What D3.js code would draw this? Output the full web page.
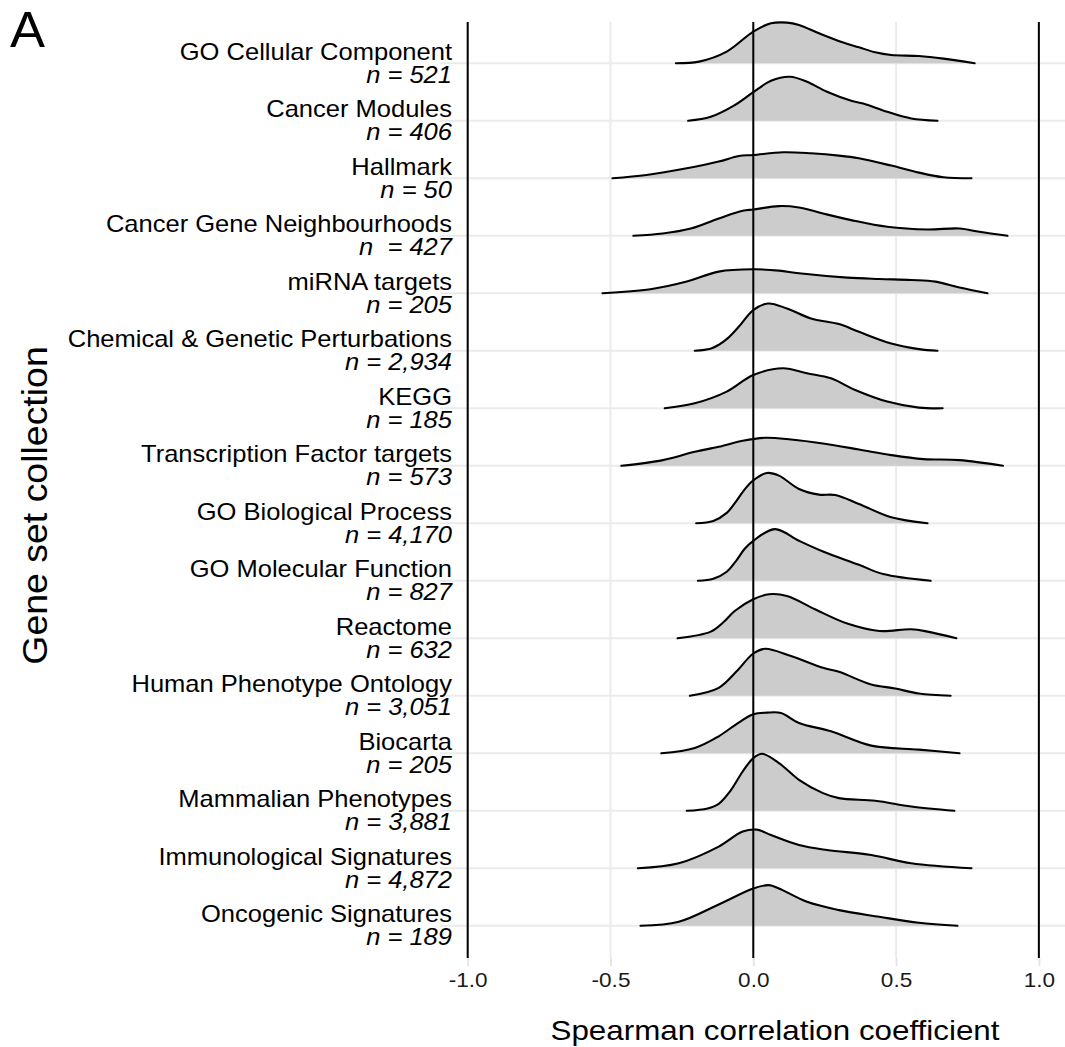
<!DOCTYPE html>
<html>
<head>
<meta charset="utf-8">
<script src="https://cdn.jsdelivr.net/npm/d3@7"></script>
<style>
  html, body { margin: 0; padding: 0; background: #fff; }
  svg { display: block; font-family: "Liberation Sans", Arial, Helvetica, sans-serif; }
</style>
</head>
<body>
<svg id="chart" width="1065" height="1047"></svg>
<script>
// ---------------- data ----------------
const categories = [
  "GO Cellular Component", "Cancer Modules", "Hallmark", "Cancer Gene Neighbourhoods",
  "miRNA targets", "Chemical & Genetic Perturbations", "KEGG", "Transcription Factor targets",
  "GO Biological Process", "GO Molecular Function", "Reactome", "Human Phenotype Ontology",
  "Biocarta", "Mammalian Phenotypes", "Immunological Signatures", "Oncogenic Signatures"
];
const nLabels = [
  "n = 521", "n = 406", "n = 50", "n  = 427", "n = 205", "n = 2,934", "n = 185", "n = 573",
  "n = 4,170", "n = 827", "n = 632", "n = 3,051", "n = 205", "n = 3,881", "n = 4,872", "n = 189"
];
const xTicks = [-1.0, -0.5, 0.0, 0.5, 1.0];
const refLines = [-1, 0, 1];
const xTitle = "Spearman correlation coefficient";
const yTitle = "Gene set collection";
const panelLabel = "A";

// density curves: [correlation, density]
const goCellularComponent = [[-0.271,0],[-0.19,0.085],[-0.093,0.585],[0,1.585],[0.062,2.0],[0.118,2.035],[0.16,1.915],[0.23,1.5],[0.315,1.035],[0.37,0.8],[0.427,0.55],[0.483,0.415],[0.58,0.365],[0.666,0.235],[0.775,0]];
const cancerModules = [[-0.228,0],[-0.149,0.2],[-0.065,0.785],[0,1.435],[0.062,2.0],[0.129,2.2],[0.188,1.95],[0.258,1.45],[0.343,1.0],[0.385,0.865],[0.469,0.45],[0.553,0.115],[0.645,0]];
const hallmark = [[-0.493,0],[-0.374,0.165],[-0.233,0.5],[-0.121,0.835],[-0.051,1.115],[0,1.165],[0.104,1.3],[0.202,1.25],[0.3,1.135],[0.37,1.0],[0.483,0.635],[0.58,0.285],[0.666,0.05],[0.764,0]];
const cancerGeneNeighbourhoods = [[-0.42,0],[-0.317,0.115],[-0.219,0.365],[-0.121,0.865],[-0.037,1.25],[0,1.315],[0.09,1.485],[0.16,1.415],[0.244,1.115],[0.343,0.785],[0.469,0.45],[0.61,0.315],[0.722,0.365],[0.792,0.2],[0.89,0]];
const mirnaTargets = [[-0.528,0],[-0.36,0.2],[-0.233,0.585],[-0.121,1.085],[0,1.2],[0.09,1.135],[0.16,1.0],[0.329,0.785],[0.441,0.715],[0.553,0.665],[0.638,0.585],[0.722,0.285],[0.82,0]];
const chemicalGenetic = [[-0.205,0],[-0.15,0.1],[-0.121,0.3],[-0.09,0.62],[-0.051,1.2],[0,2.035],[0.051,2.365],[0.118,2.115],[0.202,1.615],[0.3,1.335],[0.37,0.95],[0.483,0.365],[0.58,0.085],[0.645,0]];
const kegg = [[-0.31,0],[-0.205,0.25],[-0.093,0.835],[0,1.665],[0.104,2.0],[0.188,1.75],[0.272,1.5],[0.357,0.915],[0.469,0.335],[0.58,0.035],[0.663,0]];
const tfTargets = [[-0.462,0],[-0.317,0.285],[-0.205,0.7],[-0.121,0.95],[-0.037,1.25],[0.041,1.4],[0.132,1.315],[0.244,1.115],[0.37,0.815],[0.483,0.535],[0.596,0.335],[0.722,0.285],[0.874,0]];
const goBiologicalProcess = [[-0.2,0],[-0.14,0.12],[-0.093,0.52],[-0.06,1.1],[-0.03,1.7],[0,2.15],[0.048,2.515],[0.09,2.385],[0.16,1.715],[0.23,1.435],[0.287,1.415],[0.37,0.965],[0.483,0.3],[0.61,0]];
const goMolecularFunction = [[-0.194,0],[-0.14,0.1],[-0.093,0.45],[-0.06,1.0],[-0.03,1.6],[0,2.0],[0.076,2.585],[0.16,2.0],[0.244,1.465],[0.37,0.8],[0.455,0.335],[0.621,0]];
const reactome = [[-0.265,0],[-0.149,0.335],[-0.105,0.8],[-0.065,1.365],[0,1.95],[0.055,2.2],[0.118,2.115],[0.216,1.45],[0.329,0.735],[0.441,0.365],[0.553,0.45],[0.61,0.335],[0.711,0]];
const humanPhenotype = [[-0.222,0],[-0.121,0.4],[-0.06,1.2],[0,2.115],[0.041,2.35],[0.132,1.985],[0.244,1.4],[0.3,1.2],[0.413,0.565],[0.497,0.365],[0.58,0.115],[0.691,0]];
const biocarta = [[-0.322,0],[-0.205,0.265],[-0.121,0.85],[-0.06,1.45],[0,1.95],[0.048,2.035],[0.097,2.015],[0.16,1.515],[0.272,1.1],[0.413,0.385],[0.58,0.185],[0.722,0]];
const mammalianPhenotypes = [[-0.233,0],[-0.16,0.12],[-0.121,0.35],[-0.08,1.0],[-0.037,1.965],[0,2.635],[0.031,2.85],[0.09,2.385],[0.16,1.55],[0.244,0.885],[0.3,0.635],[0.427,0.5],[0.553,0.215],[0.704,0]];
const immunologicalSignatures = [[-0.404,0],[-0.261,0.25],[-0.121,1.085],[-0.037,1.835],[0.013,1.935],[0.062,1.665],[0.16,1.165],[0.258,0.915],[0.413,0.665],[0.553,0.25],[0.764,0]];
const oncogenicSignatures = [[-0.395,0],[-0.261,0.2],[-0.121,1.065],[0,1.865],[0.055,2.035],[0.09,1.865],[0.188,1.2],[0.3,0.785],[0.441,0.45],[0.58,0.15],[0.715,0]];

const densities = [
  goCellularComponent, cancerModules, hallmark, cancerGeneNeighbourhoods,
  mirnaTargets, chemicalGenetic, kegg, tfTargets,
  goBiologicalProcess, goMolecularFunction, reactome, humanPhenotype,
  biocarta, mammalianPhenotypes, immunologicalSignatures, oncogenicSignatures
];

// ---------------- layout ----------------
const svg = d3.select("#chart");
const panel = { left: 440, right: 1066, top: 22, bottom: 958 };

const x = d3.scaleLinear().domain([-1.097, 1.095]).range([panel.left, panel.right]);
const y = d3.scalePoint().domain(categories).range([63.3, 925.8]);
const h = d3.scaleLinear().domain([0, 1]).range([0, 20]); // density -> px height

const GRID = "#ebebeb";

// horizontal grid lines at baselines
svg.append("g").selectAll("line").data(categories).join("line")
  .attr("x1", panel.left).attr("x2", panel.right)
  .attr("y1", d => y(d)).attr("y2", d => y(d))
  .attr("stroke", GRID).attr("stroke-width", 2);

// vertical grid lines
svg.append("g").selectAll("line").data(xTicks).join("line")
  .attr("x1", d => x(d)).attr("x2", d => x(d))
  .attr("y1", panel.top).attr("y2", panel.bottom)
  .attr("stroke", GRID).attr("stroke-width", 2);

// x axis (ticks + labels)
const fmt = d3.format(".1f");
const axis = d3.axisBottom(x).tickValues(xTicks)
  .tickFormat(d => fmt(d).replace("\u2212", "-"))
  .tickSizeInner(8).tickSizeOuter(0).tickPadding(7);
const gx = svg.append("g").attr("transform", `translate(0,${panel.bottom})`).call(axis)
  .attr("font-family", null).attr("font-size", null);
gx.select(".domain").remove();
gx.selectAll(".tick line").attr("stroke", "#e5e5e5").attr("stroke-width", 2);
gx.selectAll(".tick text")
  .attr("font-size", 20).attr("fill", "#1a1a1a")
  .attr("font-family", "Liberation Sans, Arial, sans-serif")
  .attr("transform", "scale(1.13,1)");

// ridges
const curve = d3.curveCatmullRom.alpha(0.5);
const area = d3.area()
  .x(d => x(d[0])).y0(0).y1(d => -h(d[1]))
  .curve(curve);
const line = d3.line()
  .x(d => x(d[0])).y(d => -h(d[1]))
  .curve(curve);

const ridges = svg.append("g").selectAll("g").data(categories).join("g")
  .attr("transform", d => `translate(0,${y(d)})`);
ridges.append("path")
  .attr("d", (d, i) => area(densities[i]))
  .attr("fill", "#cccccc").attr("stroke", "none");
ridges.append("path")
  .attr("d", (d, i) => line(densities[i]))
  .attr("fill", "none").attr("stroke", "#000").attr("stroke-width", 2.1)
  .attr("stroke-linejoin", "round").attr("stroke-linecap", "round");

// reference lines
svg.append("g").selectAll("line").data(refLines).join("line")
  .attr("x1", d => x(d)).attr("x2", d => x(d))
  .attr("y1", panel.top).attr("y2", panel.bottom)
  .attr("stroke", "#000").attr("stroke-width", 2);

// category labels
const labelX = 452;
const SX = 1.11;
const lab = svg.append("g").selectAll("g").data(categories).join("g");
lab.append("g")
  .attr("transform", d => `translate(${labelX},${y(d) - 3.5}) scale(${SX},1)`)
  .append("text")
  .attr("text-anchor", "end").attr("font-size", 23).attr("fill", "#000")
  .text(d => d);
lab.append("g")
  .attr("transform", d => `translate(${labelX},${y(d) + 19.5}) scale(${SX},1)`)
  .append("text")
  .attr("text-anchor", "end").attr("font-size", 23).attr("font-style", "italic")
  .attr("fill", "#000").style("white-space", "pre")
  .text((d, i) => nLabels[i]);

// axis titles
svg.append("g").attr("transform", "translate(775,1040) scale(1.12,1)")
  .append("text").attr("text-anchor", "middle").attr("font-size", 28).attr("fill", "#000")
  .text(xTitle);
svg.append("g").attr("transform", "translate(46.5,505.5) rotate(-90) scale(1.07,1)")
  .append("text").attr("text-anchor", "middle").attr("font-size", 35).attr("fill", "#000")
  .text(yTitle);

// panel letter
svg.append("g").attr("transform", "translate(10,47) scale(1.05,1)")
  .append("text").attr("font-size", 50).attr("fill", "#000").text(panelLabel);
</script>
</body>
</html>
